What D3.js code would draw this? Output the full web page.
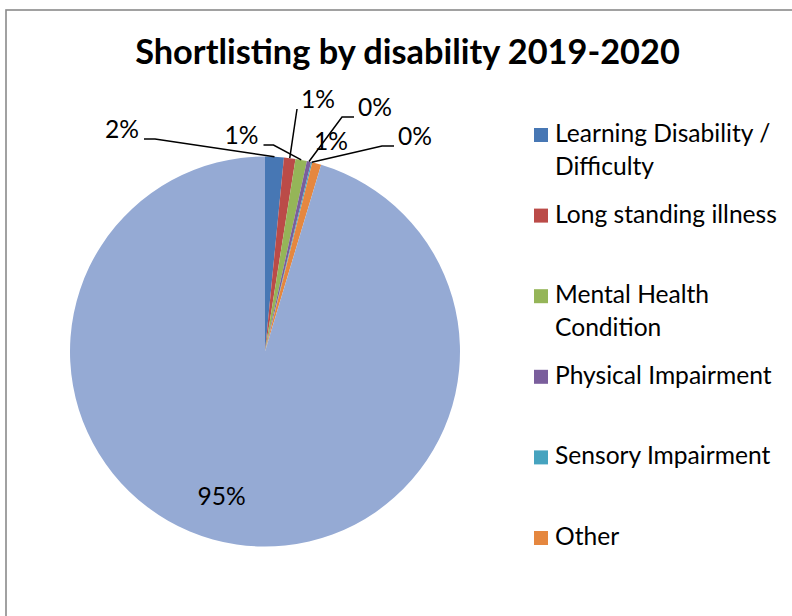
<!DOCTYPE html>
<html>
<head>
<meta charset="utf-8">
<script src="https://cdn.jsdelivr.net/npm/d3@7"></script>
<style>
  html, body { margin: 0; padding: 0; background: #fff; }
  svg { display: block; }
</style>
</head>
<body>
<svg id="chart" width="792" height="616"></svg>
<script>
// Shortlisting by disability, 2019-2020 (share of shortlisted candidates, %)
const categories = [
  "Learning Disability / Difficulty",
  "Long standing illness",
  "Mental Health Condition",
  "Physical Impairment",
  "Sensory Impairment",
  "Other",
  "No disability"
];
const shares = [1.55, 0.95, 0.95, 0.35, 0.1, 0.75, 95.35];
const valueLabels = ["2%", "1%", "1%", "0%", "0%", "1%", "95%"];
const colors = ["#4777B4", "#BB4B48", "#95B558", "#7A5E9C", "#46A3BF", "#E5873F", "#95AAD4"];
const titleText = "Shortlisting by disability 2019-2020";
// categories shown in the legend box
const legendCount = 6;

// Label placement: offset of each label (centre x, baseline y) from the pie centre,
// plus the length of the short horizontal elbow of its leader line (null = no leader).
const labelLayout = [
  { dx: -143, dy: -213.5, elbow: 11 },
  { dx: 53,   dy: -243.5, elbow: 0 },
  { dx: -23.5, dy: -207.5, elbow: 10 },
  { dx: 110,  dy: -235.5, elbow: 12 },
  { dx: 150,  dy: -206.5, elbow: 12 },
  { dx: 66,   dy: -201.5, elbow: null },
  { dx: -43.3, dy: 153.5, elbow: null }
];

const W = 792, H = 616;
const svg = d3.select("#chart");
const FONT = "Lato, Carlito, Calibri, 'Open Sans', sans-serif";

// Fit a font size so that a string spans a given width
function fitSize(text, width, weight) {
  const t = svg.append("text").attr("font-family", FONT).attr("font-weight", weight)
    .attr("font-size", 100).text(text);
  const w = t.node().getComputedTextLength();
  t.remove();
  return 100 * width / w;
}
const titleSize = fitSize(titleText, 545, "bold");
const textSize = fitSize("Long standing illness", 222, "normal");

// Chart area outline
svg.append("rect")
  .attr("x", 6).attr("y", 10)
  .attr("width", W + 20).attr("height", H + 20)
  .attr("fill", "#fff")
  .attr("stroke", "#8a8a8a").attr("stroke-width", 1.6);

// Title
svg.append("text")
  .attr("x", 407.5).attr("y", 63.5)
  .attr("text-anchor", "middle")
  .attr("font-family", FONT).attr("font-weight", "bold")
  .attr("font-size", titleSize)
  .attr("fill", "#000")
  .text(titleText);

// Pie
const cx = 265, cy = 351.5, R = 195;
const data = categories.map((c, i) => ({ name: c, value: shares[i], label: valueLabels[i], color: colors[i], layout: labelLayout[i] }));
const pie = d3.pie().value(d => d.value).sort(null);
const arcs = pie(data);
const arc = d3.arc().innerRadius(0).outerRadius(R);

const g = svg.append("g").attr("transform", `translate(${cx},${cy})`);
g.selectAll("path.slice").data(arcs).join("path")
  .attr("class", "slice")
  .attr("d", arc)
  .attr("fill", d => d.data.color);

// Data labels with leader lines
const labelG = g.append("g");
arcs.forEach(a => {
  const L = a.data.layout;
  const t = labelG.append("text")
    .attr("x", L.dx).attr("y", L.dy)
    .attr("text-anchor", "middle")
    .attr("font-family", FONT)
    .attr("font-size", textSize)
    .attr("fill", "#000")
    .text(a.data.label);
  if (L.elbow === null) return;
  const w = t.node().getComputedTextLength();
  const mid = (a.startAngle + a.endAngle) / 2;
  const ex = R * Math.sin(mid), ey = -R * Math.cos(mid);
  const toRight = ex > L.dx; // anchor lies to the right of the label
  const sx = toRight ? L.dx + w / 2 + 5 : L.dx - w / 2 - 4;
  const sy = L.dy + 1;
  const pts = [[sx, sy]];
  if (L.elbow > 0) pts.push([sx + (toRight ? L.elbow : -L.elbow), sy]);
  pts.push([ex, ey]);
  labelG.append("path")
    .attr("d", d3.line()(pts))
    .attr("fill", "none")
    .attr("stroke", "#000")
    .attr("stroke-width", 1.5);
});

// Legend
const legend = svg.append("g");
const legendTop = 142, legendStep = 80.6, wrapWidth = 222;
data.slice(0, legendCount).forEach((d, i) => {
  const baseY = legendTop + i * legendStep;
  legend.append("rect")
    .attr("x", 534).attr("y", baseY - 14)
    .attr("width", 14).attr("height", 14)
    .attr("fill", d.color);
  const t = legend.append("text")
    .attr("font-family", FONT)
    .attr("font-size", textSize)
    .attr("fill", "#000");
  // wrap words into lines that fit the legend width
  const words = d.name.split(" ");
  let line = [], lines = [];
  const probe = legend.append("text").attr("font-family", FONT).attr("font-size", textSize);
  words.forEach(wd => {
    const trial = line.concat(wd).join(" ");
    probe.text(trial);
    if (probe.node().getComputedTextLength() > wrapWidth + 0.5 && line.length) {
      lines.push(line.join(" "));
      line = [wd];
    } else line.push(wd);
  });
  lines.push(line.join(" "));
  probe.remove();
  lines.forEach((ln, k) => {
    t.append("tspan").attr("x", 555).attr("y", baseY + k * 33).text(ln);
  });
});
</script>
</body>
</html>
